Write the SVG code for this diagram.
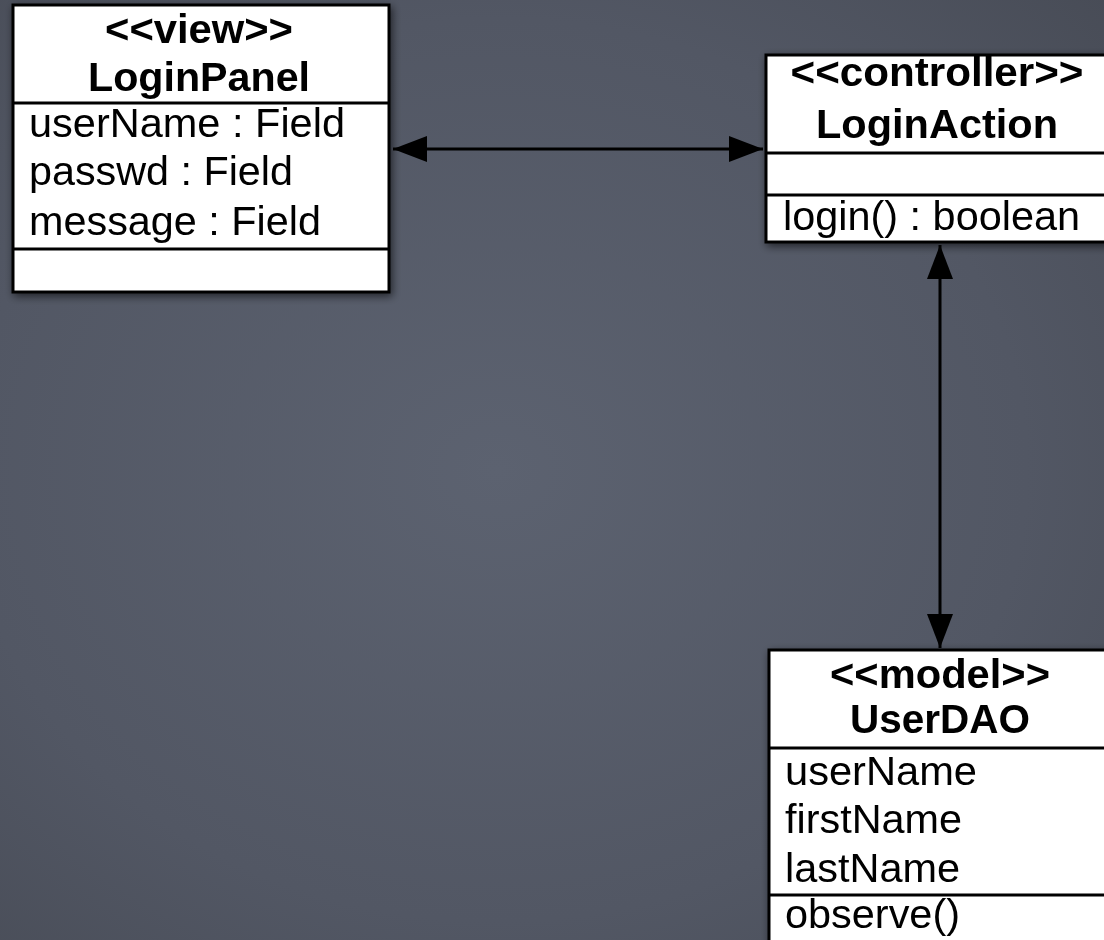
<svg xmlns="http://www.w3.org/2000/svg" width="1104" height="940" viewBox="0 0 1104 940">
<style>
.box{fill:#fff;stroke:#000;stroke-width:3}
.div{stroke:#000;stroke-width:3}
.t{font-family:"Liberation Sans",Arial,Helvetica,sans-serif;font-size:40px;fill:#000}
.b{font-weight:bold;text-anchor:middle}
.edge{stroke:#000;stroke-width:3;fill:none}
</style>
<defs>
<radialGradient id="bg" cx="0.45" cy="0.5" r="0.8">
<stop offset="0" stop-color="#5c6270"/>
<stop offset="0.6" stop-color="#525764"/>
<stop offset="1" stop-color="#464a54"/>
</radialGradient>
<filter id="sh" x="-10%" y="-10%" width="120%" height="120%">
<feGaussianBlur in="SourceAlpha" stdDeviation="4"/>
<feOffset dx="2" dy="3" result="o"/>
<feComponentTransfer><feFuncA type="linear" slope="0.6"/></feComponentTransfer>
<feMerge><feMergeNode/><feMergeNode in="SourceGraphic"/></feMerge>
</filter>
<marker id="ah" viewBox="0 0 34 26" refX="34" refY="13" markerWidth="34" markerHeight="26" markerUnits="userSpaceOnUse" orient="auto-start-reverse">
<path d="M0,0 L34,13 L0,26 Z" fill="#000"/>
</marker>
</defs>
<rect width="1104" height="940" fill="url(#bg)"/>

<g id="connectors">
<line class="edge" x1="393" y1="149" x2="763" y2="149" marker-start="url(#ah)" marker-end="url(#ah)"/>
<line class="edge" x1="940" y1="245" x2="940" y2="648" marker-start="url(#ah)" marker-end="url(#ah)"/>
</g>

<g id="LoginPanel" filter="url(#sh)">
<rect class="box" x="13" y="5" width="376" height="287"/>
<line class="div" x1="13" y1="103" x2="389" y2="103"/>
<line class="div" x1="13" y1="249" x2="389" y2="249"/>
<text class="t b" x="199" y="43" textLength="188" lengthAdjust="spacingAndGlyphs">&lt;&lt;view&gt;&gt;</text>
<text class="t b" x="199" y="91" textLength="222" lengthAdjust="spacingAndGlyphs">LoginPanel</text>
<text class="t" x="29" y="137" textLength="316" lengthAdjust="spacingAndGlyphs">userName : Field</text>
<text class="t" x="29" y="185" textLength="264" lengthAdjust="spacingAndGlyphs">passwd : Field</text>
<text class="t" x="29" y="235" textLength="292" lengthAdjust="spacingAndGlyphs">message : Field</text>
</g>

<g id="LoginAction" filter="url(#sh)">
<rect class="box" x="766" y="55" width="345" height="187"/>
<line class="div" x1="766" y1="153" x2="1111" y2="153"/>
<line class="div" x1="766" y1="195" x2="1111" y2="195"/>
<text class="t b" x="937" y="86" textLength="293" lengthAdjust="spacingAndGlyphs">&lt;&lt;controller&gt;&gt;</text>
<text class="t b" x="937" y="138" textLength="242" lengthAdjust="spacingAndGlyphs">LoginAction</text>
<text class="t" x="783" y="230" textLength="297" lengthAdjust="spacingAndGlyphs">login() : boolean</text>
</g>

<g id="UserDAO" filter="url(#sh)">
<rect class="box" x="769" y="650" width="345" height="300"/>
<line class="div" x1="769" y1="748" x2="1114" y2="748"/>
<line class="div" x1="769" y1="895" x2="1114" y2="895"/>
<text class="t b" x="940" y="688" textLength="220" lengthAdjust="spacingAndGlyphs">&lt;&lt;model&gt;&gt;</text>
<text class="t b" x="940" y="733" textLength="180" lengthAdjust="spacingAndGlyphs">UserDAO</text>
<text class="t" x="785" y="785" textLength="192" lengthAdjust="spacingAndGlyphs">userName</text>
<text class="t" x="785" y="833" textLength="177" lengthAdjust="spacingAndGlyphs">firstName</text>
<text class="t" x="785" y="882" textLength="175" lengthAdjust="spacingAndGlyphs">lastName</text>
<text class="t" x="785" y="928" textLength="175" lengthAdjust="spacingAndGlyphs">observe()</text>
</g>
</svg>
